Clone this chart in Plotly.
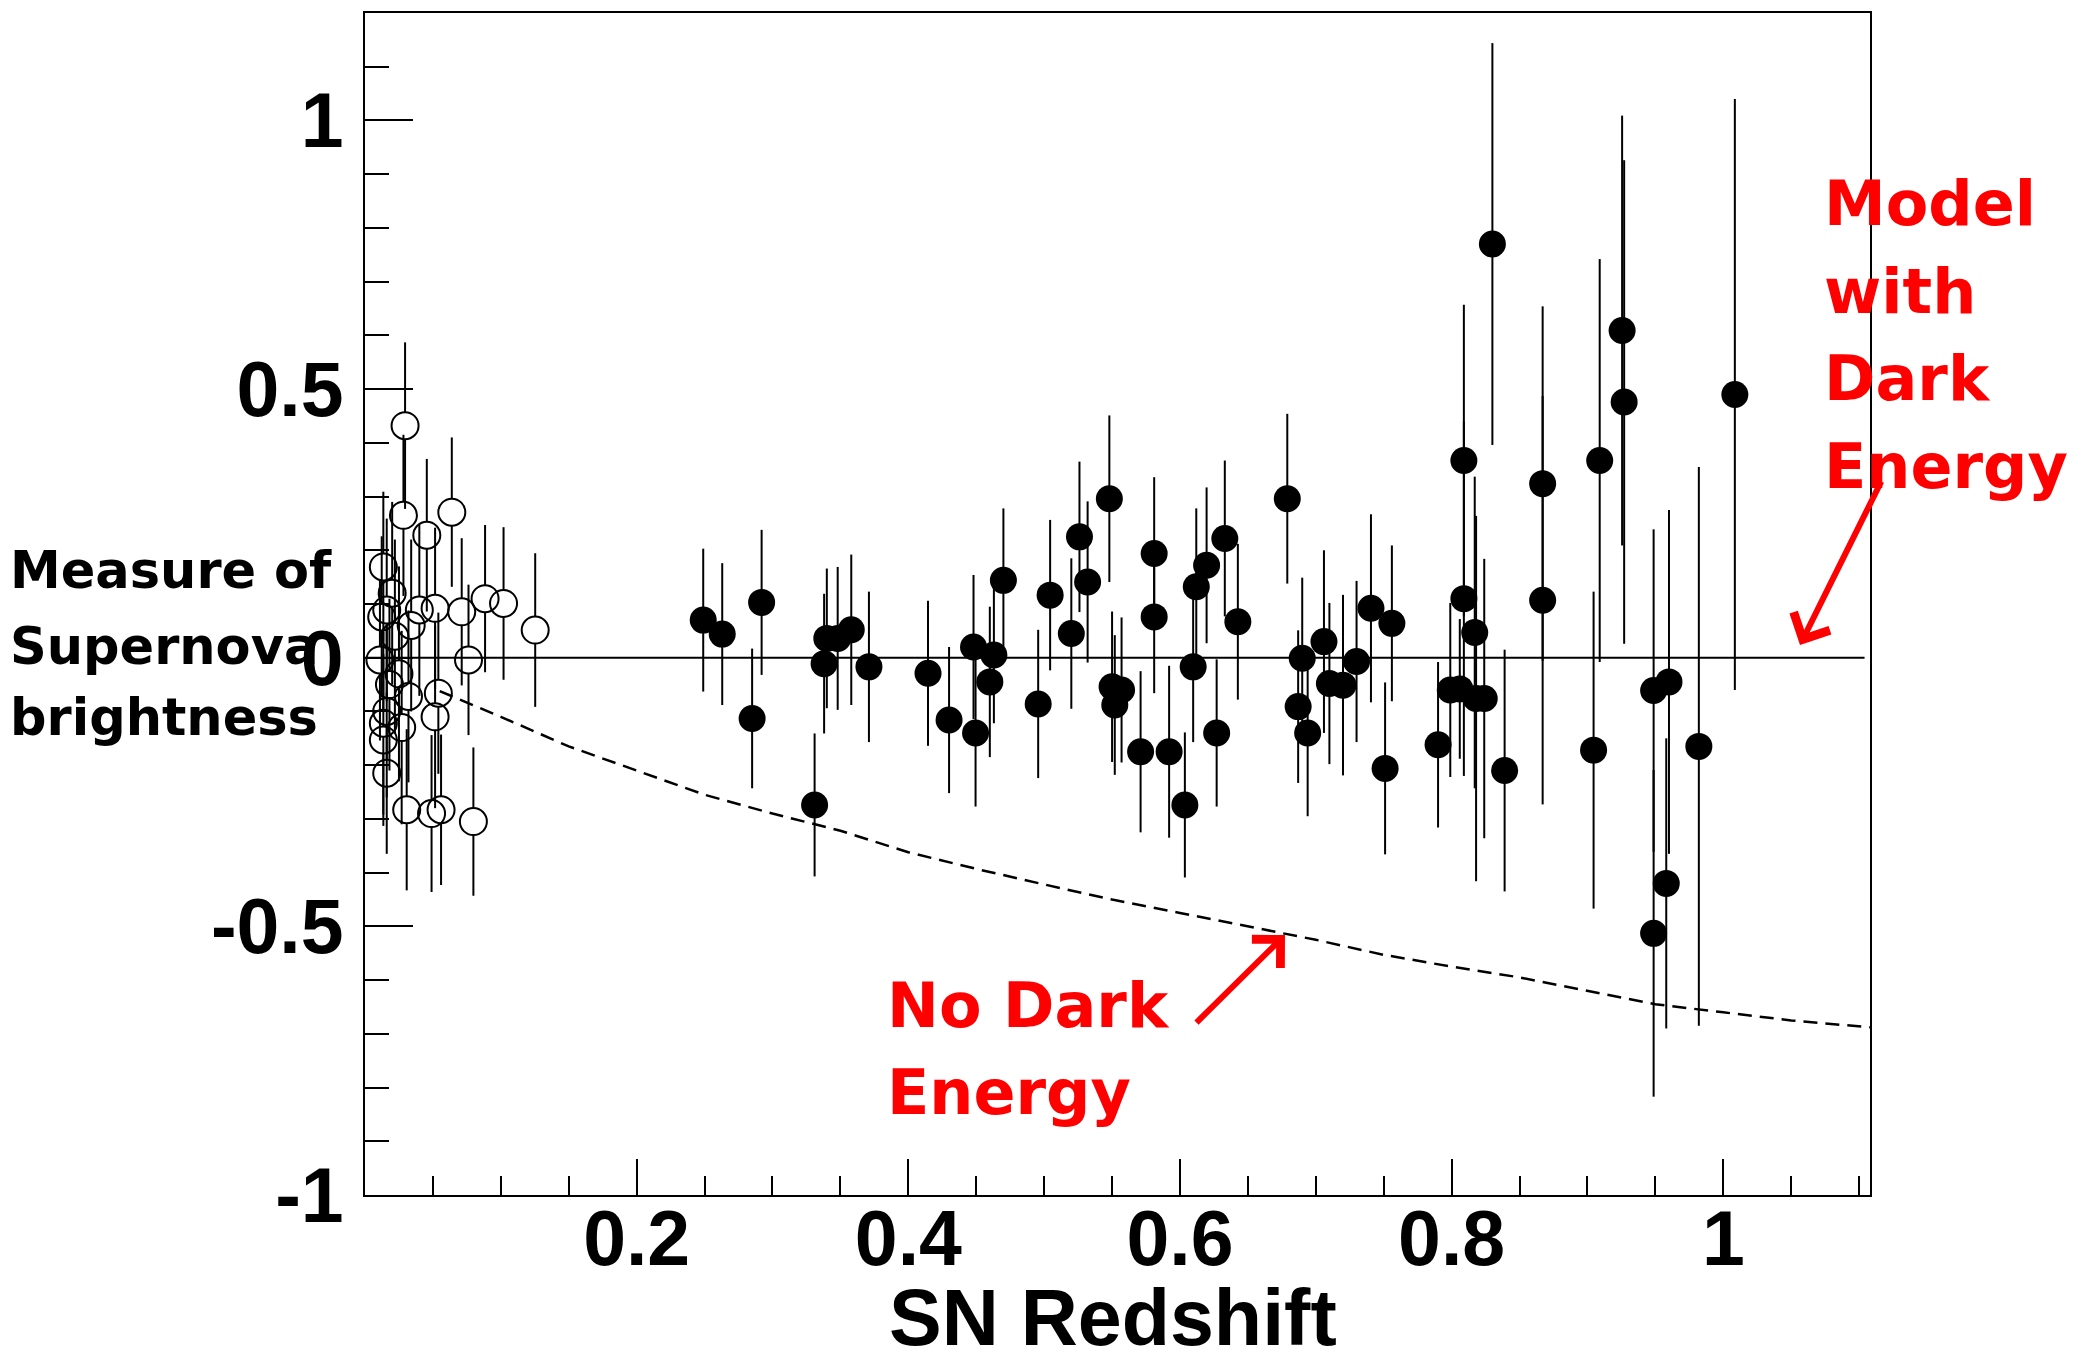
import plotly.graph_objects as go

# ---------------- data ----------------
# High-redshift supernovae (filled circles): redshift, brightness residual, error
hz_z = [0.249, 0.263, 0.292, 0.285, 0.331, 0.338, 0.340, 0.348, 0.358, 0.371,
        0.4145, 0.430, 0.448, 0.4495, 0.463, 0.460, 0.470, 0.4956, 0.5044, 0.520,
        0.526, 0.532, 0.548, 0.550, 0.557, 0.552, 0.571, 0.581, 0.581, 0.592,
        0.6036, 0.6097, 0.612, 0.6196, 0.627, 0.633, 0.6426, 0.679, 0.690, 0.687,
        0.694, 0.706, 0.710, 0.720, 0.730, 0.7406, 0.756, 0.751, 0.790, 0.799,
        0.806, 0.809, 0.809, 0.817, 0.818, 0.824, 0.830, 0.839, 0.867, 0.867,
        0.9045, 0.909, 0.9255, 0.927, 0.9487, 0.9487, 0.960, 0.958, 0.982, 1.0085]
hz_dm = [0.070, 0.044, 0.103, -0.113, -0.274, -0.011, 0.036, 0.036, 0.052, -0.017,
         -0.029, -0.116, 0.020, -0.140, 0.005, -0.045, 0.144, -0.086, 0.1165, 0.045,
         0.225, 0.141, 0.296, -0.054, -0.060, -0.088, -0.175, 0.194, 0.076, -0.175,
         -0.274, -0.017, 0.132, 0.172, -0.140, 0.222, 0.067, 0.296, -0.001, -0.091,
         -0.140, 0.030, -0.048, -0.051, -0.007, 0.092, 0.064, -0.206, -0.162, -0.060,
         -0.058, 0.367, 0.110, 0.047, -0.076, -0.076, 0.770, -0.210, 0.324, 0.107,
         -0.172, 0.367, 0.609, 0.476, -0.061, -0.513, -0.045, -0.420, -0.165, 0.490]
hz_err = [0.133, 0.132, 0.135, 0.130, 0.133, 0.130, 0.130, 0.133, 0.140, 0.140,
          0.135, 0.136, 0.134, 0.137, 0.127, 0.140, 0.134, 0.138, 0.140, 0.140,
          0.140, 0.150, 0.155, 0.140, 0.135, 0.130, 0.150, 0.142, 0.142, 0.160,
          0.135, 0.140, 0.146, 0.145, 0.137, 0.145, 0.145, 0.158, 0.150, 0.142,
          0.155, 0.170, 0.150, 0.168, 0.150, 0.175, 0.145, 0.160, 0.154, 0.162,
          0.130, 0.290, 0.330, 0.290, 0.340, 0.260, 0.374, 0.225, 0.330, 0.380,
          0.295, 0.375, 0.400, 0.450, 0.300, 0.304, 0.320, 0.270, 0.520, 0.550]

# Low-redshift supernovae (open circles)
lz_z = [0.0295, 0.0283, 0.0639, 0.0455, 0.0135, 0.0516, 0.0712, 0.0884, 0.102, 0.1253,
        0.040, 0.016, 0.0123, 0.0762, 0.011, 0.054, 0.032, 0.0516, 0.016, 0.0135,
        0.0135, 0.016, 0.0307, 0.049, 0.056, 0.0798, 0.022, 0.025, 0.020, 0.018,
        0.034, 0.027]
lz_dm = [0.432, 0.265, 0.271, 0.228, 0.169, 0.092, 0.0855, 0.110, 0.101, 0.0515,
         0.089, 0.089, 0.076, -0.004, -0.004, -0.066, -0.072, -0.110, -0.100, -0.122,
         -0.153, -0.215, -0.283, -0.290, -0.283, -0.305, 0.040, -0.030, 0.120, -0.050,
         0.060, -0.130]
lz_err = [0.155, 0.15, 0.139, 0.142, 0.14, 0.15, 0.137, 0.137, 0.142, 0.143,
          0.16, 0.17, 0.15, 0.14, 0.15, 0.15, 0.16, 0.17, 0.16, 0.17,
          0.16, 0.15, 0.15, 0.146, 0.14, 0.138, 0.18, 0.2, 0.17, 0.16,
          0.16, 0.18]

# Model curves
de_model_z = [0.0, 1.104]          # model with dark energy (reference, zero)
de_model_dm = [0.0, 0.0]
nde_model_z = [0.055, 0.10, 0.15, 0.20, 0.25, 0.30, 0.35, 0.40, 0.45, 0.50, 0.55,
               0.60, 0.65, 0.70, 0.75, 0.80, 0.85, 0.90, 0.95, 1.00, 1.05, 1.108]
nde_model_dm = [-0.062, -0.110, -0.165, -0.210, -0.255, -0.290, -0.322, -0.362, -0.393,
                -0.422, -0.450, -0.475, -0.500, -0.525, -0.553, -0.575, -0.595, -0.620,
                -0.645, -0.660, -0.675, -0.688]

x_tickvals = [0.2, 0.4, 0.6, 0.8, 1.0]
x_ticktext = ["0.2", "0.4", "0.6", "0.8", "1"]
y_tickvals = [-1, -0.5, 0, 0.5, 1]
y_ticktext = ["-1", "-0.5", "0", "0.5", "1"]

# ---------------- layout geometry ----------------
W, H = 2088, 1363
L, R, T, B = 365, 1870, 13, 1195
XR = [0.0, 1.108]
YR = [-1.0, 1.2]
px_per_y = (B - T) / (YR[1] - YR[0])

FILLED_SIZE = 27
OPEN_SIZE = 27


def bar_segments(zs, ys, es, gap):
    xs, yy = [], []
    for z, y, e in zip(zs, ys, es):
        if e > gap:
            xs += [z, z, None, z, z, None]
            yy += [y + gap, y + e, None, y - gap, y - e, None]
    return xs, yy


fig = go.Figure()

# zero (dark energy) model line
fig.add_trace(go.Scatter(x=de_model_z, y=de_model_dm, mode="lines",
                         line=dict(color="black", width=2), hoverinfo="skip"))
# no dark energy model, dashed
fig.add_trace(go.Scatter(x=nde_model_z, y=nde_model_dm, mode="lines",
                         line=dict(color="black", width=2.5, dash="14px,8px"),
                         hoverinfo="skip"))

# error bars
bx, by = bar_segments(hz_z, hz_dm, hz_err, 0.0)
fig.add_trace(go.Scatter(x=bx, y=by, mode="lines", line=dict(color="black", width=2),
                         hoverinfo="skip"))
gap_open = (OPEN_SIZE / 2) / px_per_y
bx, by = bar_segments(lz_z, lz_dm, lz_err, gap_open)
fig.add_trace(go.Scatter(x=bx, y=by, mode="lines", line=dict(color="black", width=2),
                         hoverinfo="skip"))

# markers
fig.add_trace(go.Scatter(x=lz_z, y=lz_dm, mode="markers",
                         marker=dict(symbol="circle-open", size=OPEN_SIZE, color="black",
                                     line=dict(width=2, color="black"))))
fig.add_trace(go.Scatter(x=hz_z, y=hz_dm, mode="markers",
                         marker=dict(symbol="circle", size=FILLED_SIZE, color="black",
                                     line=dict(width=0))))

TICKFONT = dict(family="Liberation Sans", size=77, color="black", weight="bold")

fig.update_xaxes(range=XR, showgrid=False, zeroline=False,
                 showline=True, linecolor="black", linewidth=2, mirror=True,
                 tickmode="array", tickvals=x_tickvals, ticktext=x_ticktext,
                 ticks="inside", ticklen=36, tickwidth=2, tickcolor="black",
                 tickfont=TICKFONT, ticklabelstandoff=-24,
                 minor=dict(tickmode="linear", tick0=0, dtick=0.05, ticks="inside",
                            ticklen=19, tickwidth=2, tickcolor="black", showgrid=False))
fig.update_yaxes(range=YR, showgrid=False, zeroline=False,
                 showline=True, linecolor="black", linewidth=2, mirror=True,
                 tickmode="array", tickvals=y_tickvals, ticktext=y_ticktext,
                 ticks="inside", ticklen=48, tickwidth=2, tickcolor="black",
                 tickfont=TICKFONT, ticklabelstandoff=4,
                 minor=dict(tickmode="linear", tick0=0, dtick=0.1, ticks="inside",
                            ticklen=24, tickwidth=2, tickcolor="black", showgrid=False))

fig.update_layout(width=W, height=H, autosize=False,
                  margin=dict(l=L, r=W - R, t=T, b=H - B, pad=0),
                  paper_bgcolor="white", plot_bgcolor="white", showlegend=False)


def paper(X, Y):
    return (X - L) / (R - L), (B - Y) / (B - T)


def label(text, X, Ymid, size, color, family, anchor="left"):
    x, y = paper(X, Ymid)
    fig.add_annotation(x=x, y=y, xref="paper", yref="paper", text=text, showarrow=False,
                       xanchor=anchor, yanchor="middle",
                       font=dict(family=family, size=size, color=color, weight="bold"))


def arrow(head, tail, color="red"):
    x, y = paper(*head)
    fig.add_annotation(x=x, y=y, xref="paper", yref="paper", text="",
                       showarrow=True, axref="pixel", ayref="pixel",
                       ax=tail[0] - head[0], ay=tail[1] - head[1],
                       arrowhead=4, arrowsize=1.3, arrowwidth=6, arrowcolor=color)


# axis title
label("SN Redshift", 1113, 1317, 79, "black", "Liberation Sans", anchor="center")

# y-axis description
for txt, yb in [("Measure of", 588), ("Supernova", 664), ("brightness", 735)]:
    label(txt, 8, yb - 0.346 * 51, 51, "black", "DejaVu Sans")

# red annotations
for txt, yb in [("Model", 225), ("with", 313), ("Dark", 400), ("Energy", 488)]:
    label(txt, 1822, yb - 0.346 * 62, 62, "red", "DejaVu Sans")
for txt, yb in [("No Dark", 1027), ("Energy", 1114)]:
    label(txt, 885, yb - 0.346 * 62, 62, "red", "DejaVu Sans")

arrow((1285, 935), (1195, 1024))
arrow((1800, 645), (1882, 480))

fig.write_html("out.html")
